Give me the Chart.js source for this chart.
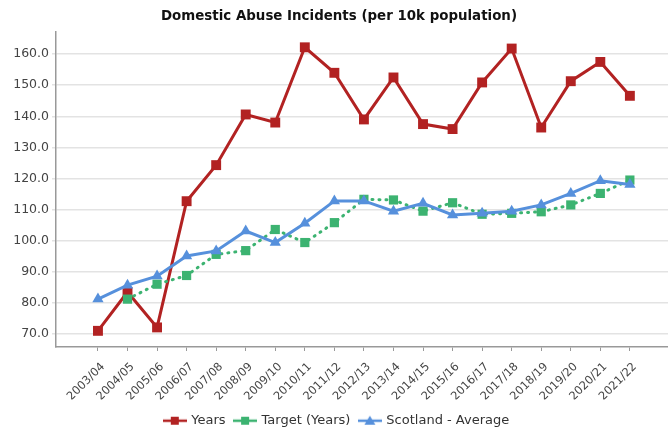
<!DOCTYPE html>
<html><head><meta charset="utf-8">
<script src="https://cdn.jsdelivr.net/npm/chart.js@4.4.1/dist/chart.umd.min.js"></script>
<style>html,body{margin:0;padding:0;background:#fff}#wrap{width:668px;height:432px}</style>
</head><body><div id="wrap"><canvas id="c" width="668" height="432"></canvas></div>
<script>
const categories = ['2003/04','2004/05','2005/06','2006/07','2007/08','2008/09','2009/10','2010/11','2011/12','2012/13','2013/14','2014/15','2015/16','2016/17','2017/18','2018/19','2019/20','2020/21','2021/22'];
const yearsValues = [71.0, 83.5, 72.1, 112.7, 124.3, 140.6, 138.0, 162.2, 154.0, 139.0, 152.5, 137.5, 135.9, 150.9, 161.8, 136.4, 151.3, 157.5, 146.6];
const targetValues = [null, 81.2, 86.0, 88.8, 95.6, 96.8, 103.6, 99.4, 105.8, 113.3, 113.1, 109.5, 112.2, 108.5, 108.8, 109.3, 111.5, 115.2, 119.5];
const scotlandValues = [81.2, 85.7, 88.6, 95.1, 96.7, 103.1, 99.4, 105.6, 112.8, 112.8, 109.5, 112.0, 108.3, 108.8, 109.5, 111.5, 115.2, 119.3, 118.1];
const yTicks = [70, 80, 90, 100, 110, 120, 130, 140, 150, 160];
const seriesNames = ['Years', 'Target (Years)', 'Scotland - Average'];

const RED = '#b22222', GREEN = '#3cb371', BLUE = '#5690dc';

function toPoints(arr) {
  return arr.map((v, i) => ({ x: i, y: v })).filter(p => p.y !== null);
}

function legendIcon(color, shape) {
  const c = document.createElement('canvas');
  c.width = 24; c.height = 14;
  const g = c.getContext('2d');
  g.strokeStyle = color; g.lineWidth = 2.5;
  g.beginPath(); g.moveTo(0, 7); g.lineTo(24, 7); g.stroke();
  g.fillStyle = color;
  if (shape === 'rect') {
    g.fillRect(8, 3, 8, 8);
  } else {
    g.beginPath(); g.moveTo(12, 2); g.lineTo(17.5, 11); g.lineTo(6.5, 11); g.closePath(); g.fill();
  }
  return c;
}
const icons = [legendIcon(RED, 'rect'), legendIcon(GREEN, 'rect'), legendIcon(BLUE, 'tri')];

const FONT = "'DejaVu Sans', sans-serif";

const shiftPlugin = {
  id: 'shiftPlugin',
  beforeDraw(chart) {
    const lg = chart.legend;
    if (lg) { lg.left += 3; lg.right += 3; lg.top = 420.7 - 9.5 - 6.5; }
    const tb = chart.titleBlock;
    if (tb) { tb.left += 10; }
  }
};

new Chart(document.getElementById('c'), {
  type: 'line',
  plugins: [shiftPlugin],
  data: {
    datasets: [
      { label: seriesNames[0], data: toPoints(yearsValues), borderColor: RED, backgroundColor: RED,
        borderWidth: 3, pointStyle: 'rect', pointRadius: 7, pointHoverRadius: 7, pointBorderWidth: 0, order: 3, tension: 0 },
      { label: seriesNames[1], data: toPoints(targetValues), borderColor: GREEN, backgroundColor: GREEN,
        borderWidth: 3, borderDash: [1, 6], borderCapStyle: 'round', pointStyle: 'rect', pointRadius: 6.5, pointHoverRadius: 6.5, pointBorderWidth: 0, order: 2, tension: 0 },
      { label: seriesNames[2], data: toPoints(scotlandValues), borderColor: BLUE, backgroundColor: BLUE,
        borderWidth: 3, pointStyle: 'triangle', pointRadius: 6.5, pointHoverRadius: 6.5, pointBorderWidth: 0, order: 1, tension: 0 }
    ]
  },
  options: {
    responsive: false,
    animation: false,
    devicePixelRatio: 1,
    layout: { autoPadding: false, padding: { left: 0, right: 0, top: 0, bottom: 0 } },
    plugins: {
      tooltip: { enabled: false },
      title: {
        display: true,
        text: 'Domestic Abuse Incidents (per 10k population)',
        color: '#111',
        font: { family: FONT, size: 13.4, weight: 'bold' },
        padding: { top: 8, bottom: 8 }
      },
      legend: {
        position: 'bottom',
        labels: {
          usePointStyle: true,
          pointStyleWidth: 20,
          boxHeight: 13,
          padding: 9.5,
          color: '#333',
          font: { family: FONT, size: 13 },
          generateLabels: (chart) => seriesNames.map((n, i) => ({
            text: n, pointStyle: icons[i], fillStyle: 'transparent', strokeStyle: 'transparent',
            lineWidth: 0, hidden: false, datasetIndex: i, fontColor: '#333'
          }))
        }
      }
    },
    scales: {
      x: {
        type: 'linear',
        min: -1.42,
        max: 19.29,
        afterBuildTicks: (s) => { s.ticks = categories.map((_, i) => ({ value: i })); },
        afterFit: (s) => { s.height = 52.5; s.paddingLeft = 0; s.paddingRight = 0; },
        ticks: {
          autoSkip: false,
          maxRotation: 45, minRotation: 45,
          color: '#444',
          font: { family: FONT, size: 11.5 },
          padding: 9,
          labelOffset: 5,
          callback: (v) => categories[v] ?? ''
        },
        grid: { drawOnChartArea: false, drawTicks: true, tickLength: 4, color: '#999' },
        border: { color: '#999', width: 1.5 }
      },
      y: {
        type: 'linear',
        min: 65.8,
        max: 167.1,
        afterBuildTicks: (s) => { s.ticks = yTicks.map(v => ({ value: v })); },
        afterFit: (s) => { s.width = 56; s.paddingTop = 0; s.paddingBottom = 0; },
        ticks: {
          color: '#444',
          font: { family: FONT, size: 12.5 },
          padding: 3,
          callback: (v) => Number(v).toFixed(1)
        },
        grid: { color: '#e3e3e3', lineWidth: 1.5, tickLength: 4 },
        border: { color: '#999', width: 1.5 }
      }
    }
  }
});
</script></body></html>
